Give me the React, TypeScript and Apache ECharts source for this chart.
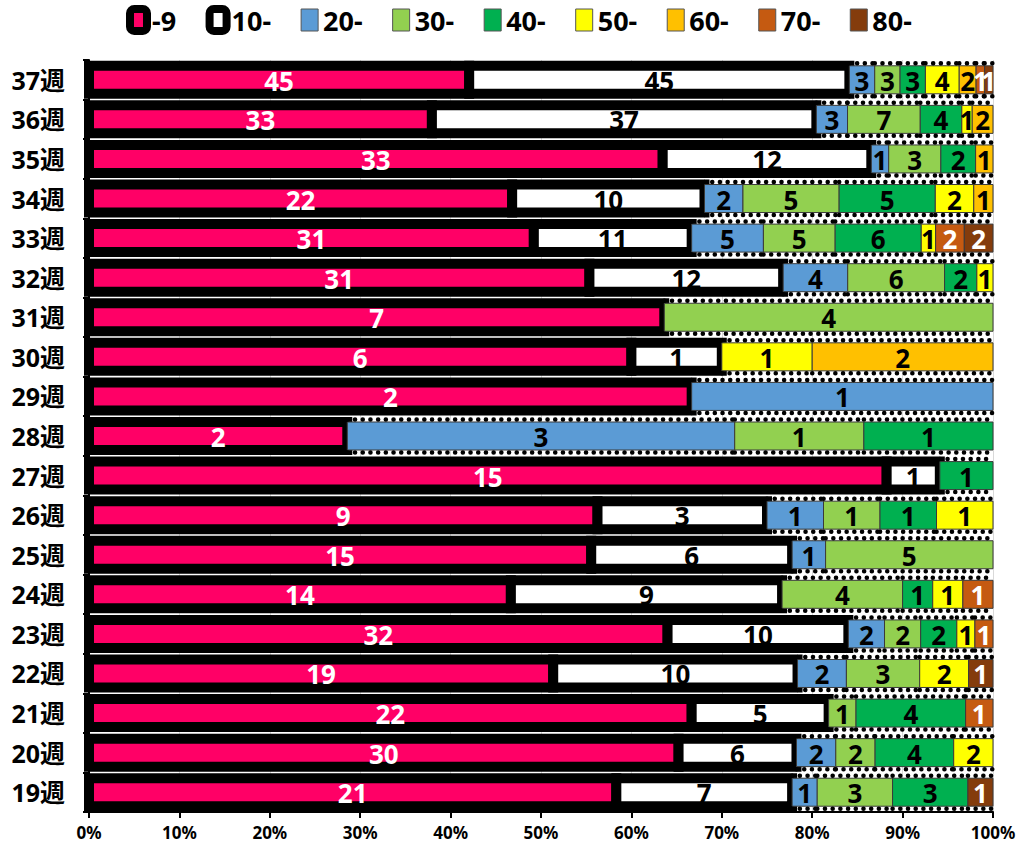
import React, { useEffect, useRef } from 'react';
import * as echarts from 'echarts';

const categories = ['19週', '20週', '21週', '22週', '23週', '24週', '25週', '26週', '27週', '28週', '29週', '30週', '31週', '32週', '33週', '34週', '35週', '36週', '37週'];
const seriesNames = ['-9', '10-', '20-', '30-', '40-', '50-', '60-', '70-', '80-'];
const xTicks = [0, 10, 20, 30, 40, 50, 60, 70, 80, 90, 100];

// counts per age group, index 0 = 19週 ... 18 = 37週
const age0 = [21, 30, 22, 19, 32, 14, 15, 9, 15, 2, 2, 6, 7, 31, 31, 22, 33, 33, 45];
const age10 = [7, 6, 5, 10, 10, 9, 6, 3, 1, 0, 0, 1, 0, 12, 11, 10, 12, 37, 45];
const age20 = [1, 2, 0, 2, 2, 0, 1, 1, 0, 3, 1, 0, 0, 4, 5, 2, 1, 3, 3];
const age30 = [3, 2, 1, 3, 2, 4, 5, 1, 0, 1, 0, 0, 4, 6, 5, 5, 3, 7, 3];
const age40 = [3, 4, 4, 0, 2, 1, 0, 1, 1, 1, 0, 0, 0, 2, 6, 5, 2, 4, 3];
const age50 = [0, 2, 0, 2, 1, 1, 0, 1, 0, 0, 0, 1, 0, 1, 1, 2, 0, 1, 4];
const age60 = [0, 0, 0, 0, 0, 0, 0, 0, 0, 0, 0, 2, 0, 0, 0, 1, 1, 2, 2];
const age70 = [0, 0, 1, 0, 1, 1, 0, 0, 0, 0, 0, 0, 0, 0, 2, 0, 0, 0, 1];
const age80 = [1, 0, 0, 1, 0, 0, 0, 0, 0, 0, 0, 0, 0, 0, 2, 0, 0, 0, 1];

const counts = [age0, age10, age20, age30, age40, age50, age60, age70, age80];
const colors = ['#FF0066', '#FFFFFF', '#5B9BD5', '#92D050', '#00B050', '#FFFF00', '#FFC000', '#C55A11', '#843C0C'];
const labelColors = ['#FFFFFF', '#000000', '#000000', '#000000', '#000000', '#000000', '#000000', '#FFFFFF', '#FFFFFF'];

const FONT = '"Noto Sans", "Noto Sans CJK JP", sans-serif';
const BAR_H = 28;
const FRAME_W = 10;

function buildData(i: number, totals: number[]) {
  const out: number[][] = [];
  for (let j = 0; j < categories.length; j++) {
    const v = counts[i][j];
    if (!v) continue;
    let before = 0;
    for (let k = 0; k < i; k++) before += counts[k][j];
    out.push([j, (before / totals[j]) * 100, ((before + v) / totals[j]) * 100, v]);
  }
  return out;
}

function makeRenderItem(i: number) {
  return (_params: any, api: any) => {
    const j = api.value(0);
    const a = api.coord([api.value(1), j]);
    const b = api.coord([api.value(2), j]);
    const c = api.value(3);
    const x = a[0];
    const w = b[0] - a[0];
    const cy = a[1];
    const y = cy - BAR_H / 2;
    const children: any[] = [];
    if (i < 2) {
      children.push({
        type: 'rect',
        shape: { x, y, width: w, height: BAR_H },
        style: { fill: colors[i], stroke: '#000', lineWidth: FRAME_W },
      });
    } else {
      children.push({
        type: 'rect',
        shape: { x, y, width: w, height: BAR_H },
        style: { fill: colors[i], stroke: '#3a3a3a', lineWidth: 1 },
      });
      const dot = { stroke: '#000', lineWidth: 4.5, lineDash: [0.1, 7.6], lineCap: 'round' };
      children.push({ type: 'line', silent: true, shape: { x1: x, y1: y - 2.5, x2: x + w, y2: y - 2.5 }, style: dot });
      children.push({ type: 'line', silent: true, shape: { x1: x, y1: y + BAR_H + 2.5, x2: x + w, y2: y + BAR_H + 2.5 }, style: dot });
    }
    children.push({
      type: 'text',
      x: x + w / 2,
      y: cy + 1,
      z2: 100,
      style: {
        text: String(c),
        fill: labelColors[i],
        fontSize: 26,
        fontWeight: 'bold',
        fontFamily: FONT,
        align: 'center',
        verticalAlign: 'middle',
      },
    });
    return { type: 'group', children };
  };
}

export default function App() {
  const ref = useRef<HTMLDivElement>(null);
  useEffect(() => {
    if (!ref.current) return;
    const chart = echarts.init(ref.current, null, { renderer: 'svg' });
    const totals = categories.map((_, j) => counts.reduce((acc, s) => acc + s[j], 0));
    const series = seriesNames.map((name, i) => ({
      name,
      type: 'custom',
      renderItem: makeRenderItem(i),
      data: buildData(i, totals),
      encode: { x: [1, 2], y: 0 },
      itemStyle: { color: colors[i] },
      emphasis: { disabled: true },
    }));
    chart.setOption({
      animation: false,
      legend: {
        top: 0,
        left: 121,
        itemWidth: 17,
        itemHeight: 22,
        itemGap: 29.5,
        textStyle: { fontSize: 27, fontWeight: 'bold', color: '#000', fontFamily: FONT },
        data: seriesNames.map((n, i) => ({
          name: n,
          icon: i < 2 ? 'roundRect' : 'rect',
          itemStyle:
            i < 2
              ? { color: colors[i], borderColor: '#000', borderWidth: 8, borderType: 'solid' }
              : { color: colors[i], borderColor: '#555', borderWidth: 1, borderType: 'solid' },
        })),
      },
      grid: { left: 89, right: 26, top: 60, bottom: 36, outerBoundsMode: 'none' },
      xAxis: {
        type: 'value',
        min: xTicks[0],
        max: xTicks[xTicks.length - 1],
        interval: 10,
        axisLabel: { formatter: '{value}%', fontSize: 17, fontWeight: 'bold', color: '#000', fontFamily: FONT, margin: 12 },
        axisLine: { show: true, lineStyle: { color: '#000', width: 2 } },
        axisTick: { show: true, length: 6, lineStyle: { color: '#000', width: 2 } },
        splitLine: { show: true, lineStyle: { color: '#D9D9D9', width: 1 } },
      },
      yAxis: {
        type: 'category',
        data: categories,
        axisLine: { show: true, lineStyle: { color: '#000', width: 2 } },
        axisTick: { show: true, length: 6, lineStyle: { color: '#000', width: 2 } },
        axisLabel: { fontSize: 25, fontWeight: 'bold', color: '#000', fontFamily: FONT, margin: 24 },
      },
      series,
    });
    return () => chart.dispose();
  }, []);
  return <div ref={ref} style={{ position: 'fixed', left: 0, top: 0, width: 1019, height: 848, background: '#fff' }} />;
}
